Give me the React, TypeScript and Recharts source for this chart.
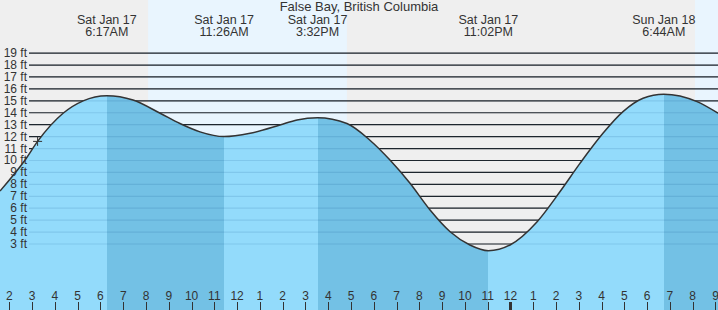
import React from "react";
import {
  ComposedChart,
  Area,
  Line,
  XAxis,
  YAxis,
  ReferenceArea,
  ReferenceLine,
  ReferenceDot,
} from "recharts";

// hours counted from Sat Jan 17 00:00
const tideHours = [
  1.59, 2.69, 3.24, 4.36, 5.24, 6.28, 7.43, 8.62, 9.49, 10.37, 11.43, 12.57, 13.88, 14.63, 15.53,
  16.82, 17.83, 18.71, 19.59, 20.47, 21.35, 22.22, 23.03, 23.98, 25.17, 26.17, 27.05, 28.06, 28.94,
  29.82, 30.73, 32.19, 33.11,
];
const tideFeet = [
  7.44, 10.04, 11.6, 13.96, 15.0, 15.43, 15.07, 13.96, 13.1, 12.4, 12.0, 12.28, 12.97, 13.4, 13.59,
  13.1, 11.7, 10.04, 8.09, 5.85, 4.03, 2.92, 2.44, 2.92, 4.87, 7.38, 9.76, 12.28, 14.09, 15.21,
  15.55, 14.93, 13.96,
];

const extremeHours = [6.28, 11.43, 15.53, 23.03, 30.73];
const extremeDays = ["Sat Jan 17", "Sat Jan 17", "Sat Jan 17", "Sat Jan 17", "Sun Jan 18"];
const extremeTimes = ["6:17AM", "11:26AM", "3:32PM", "11:02PM", "6:44AM"];

const sunriseHours = [8.09, 32.1];
const sunsetHours = [16.82, 33.11];

const nowHour = 3.24;
const nowFeet = 11.6;

const feetTicks = [3, 4, 5, 6, 7, 8, 9, 10, 11, 12, 13, 14, 15, 16, 17, 18, 19];
const hourTicks = [
  2, 3, 4, 5, 6, 7, 8, 9, 10, 11, 12, 13, 14, 15, 16, 17, 18, 19, 20, 21, 22, 23, 24, 25, 26, 27,
  28, 29, 30, 31, 32, 33,
];

const yMin = -2.53;
const yMax = 23.45;
const xMin = tideHours[0];
const xMax = tideHours[tideHours.length - 1];

const W = 718;
const H = 310;
const FONT = "'Liberation Sans', Arial, sans-serif";
const TEXT = "#333";
const NIGHT = "#efefef";
const DAY = "#e9f5fe";
const RISING = "#93dbfb";
const FALLING = "#73c1e5";
const GUTTER = 29;

const data = tideHours.map((h, i) => ({ h, ft: tideFeet[i] }));

const bounds = [xMin, ...extremeHours, xMax];
const span = xMax - xMin;

function GridDark(props: any) {
  const { x1, x2, y1, y2 } = props;
  return <line x1={x1 + GUTTER} x2={x2} y1={y1} y2={y2} stroke="#222" strokeWidth={1.2} />;
}

function GridLight(props: any) {
  const { x1, x2, y1, y2 } = props;
  return (
    <line x1={x1 + GUTTER} x2={x2} y1={y1} y2={y2} stroke="rgba(0,70,130,0.13)" strokeWidth={1.2} />
  );
}

function FeetTick({ y, payload }: any) {
  return (
    <text x={27} y={y + 4} textAnchor="end" fontFamily={FONT} fontSize={12} fill={TEXT}>
      {`${payload.value} ft`}
    </text>
  );
}

function HourTick({ x, payload }: any) {
  const h = payload.value;
  const label = h % 12 === 0 ? 12 : h % 12;
  const midnight = h % 24 === 0;
  const px = Math.round(x) + 0.5;
  return (
    <g>
      <line x1={px} x2={px} y1={H - 8} y2={H} stroke={TEXT} strokeWidth={midnight ? 3 : 1} />
      <text x={x} y={H - 10} textAnchor="middle" fontFamily={FONT} fontSize={12} fill={TEXT}>
        {label}
      </text>
    </g>
  );
}

function Plus({ cx, cy }: any) {
  return (
    <path
      d={`M${cx - 4.5},${cy}h9M${cx},${cy - 4.5}v9`}
      stroke={TEXT}
      strokeWidth={1}
      fill="none"
    />
  );
}

function extremeLabel(i: number) {
  return ({ viewBox }: any) => (
    <g fontFamily={FONT} fontSize={12.5} fill={TEXT} textAnchor="middle">
      <text x={viewBox.x} y={24}>
        {extremeDays[i]}
      </text>
      <text x={viewBox.x} y={36}>
        {extremeTimes[i]}
      </text>
    </g>
  );
}

export default function App() {
  return (
    <div style={{ position: "absolute", left: 0, top: 0, width: W, height: H, background: NIGHT }}>
      <ComposedChart width={W} height={H} data={data} margin={{ top: 0, right: 0, bottom: 0, left: 0 }}>
        <defs>
          <linearGradient id="tideFill" x1="0" y1="0" x2="1" y2="0">
            {bounds.slice(0, -1).flatMap((b, i) => {
              const c = i % 2 === 0 ? RISING : FALLING;
              return [
                <stop key={`s${i}`} offset={(b - xMin) / span} stopColor={c} />,
                <stop key={`e${i}`} offset={(bounds[i + 1] - xMin) / span} stopColor={c} />,
              ];
            })}
          </linearGradient>
        </defs>
        {sunriseHours.map((s, i) => (
          <ReferenceArea
            key={`day${i}`}
            x1={s}
            x2={sunsetHours[i]}
            fill={DAY}
            fillOpacity={1}
            stroke="none"
            zIndex={10}
          />
        ))}
        {feetTicks.map((f) => (
          <ReferenceLine key={`gd${f}`} y={f} shape={GridDark} zIndex={20} />
        ))}
        <Area
          dataKey="ft"
          type="monotone"
          baseValue="dataMin"
          fill="url(#tideFill)"
          fillOpacity={1}
          stroke="none"
          dot={false}
          activeDot={false}
          isAnimationActive={false}
          zIndex={30}
        />
        {feetTicks.map((f) => (
          <ReferenceLine key={`gl${f}`} y={f} shape={GridLight} zIndex={40} />
        ))}
        <Line
          dataKey="ft"
          type="monotone"
          stroke="#333"
          strokeWidth={1.5}
          dot={false}
          activeDot={false}
          isAnimationActive={false}
          zIndex={50}
        />
        <ReferenceDot x={nowHour} y={nowFeet} shape={Plus} zIndex={60} />
        {extremeHours.map((h, i) => (
          <ReferenceLine
            key={`ex${i}`}
            x={h}
            stroke="none"
            label={{ content: extremeLabel(i) }}
            zIndex={70}
          />
        ))}
        <XAxis
          type="number"
          dataKey="h"
          domain={[xMin, xMax]}
          allowDataOverflow
          ticks={hourTicks}
          interval={0}
          mirror
          height={30}
          tickSize={0}
          tickMargin={0}
          axisLine={false}
          tickLine={false}
          tick={<HourTick />}
          zIndex={80}
        />
        <YAxis
          type="number"
          domain={[yMin, yMax]}
          allowDataOverflow
          ticks={feetTicks}
          interval={0}
          mirror
          width={30}
          tickSize={0}
          tickMargin={0}
          axisLine={false}
          tickLine={false}
          tick={<FeetTick />}
          zIndex={80}
        />
      </ComposedChart>
      <svg
        width={W}
        height={20}
        style={{ position: "absolute", left: 0, top: 0, pointerEvents: "none" }}
      >
        <text x={359} y={11} textAnchor="middle" fontFamily={FONT} fontSize={13} fill={TEXT}>
          False Bay, British Columbia
        </text>
      </svg>
    </div>
  );
}
